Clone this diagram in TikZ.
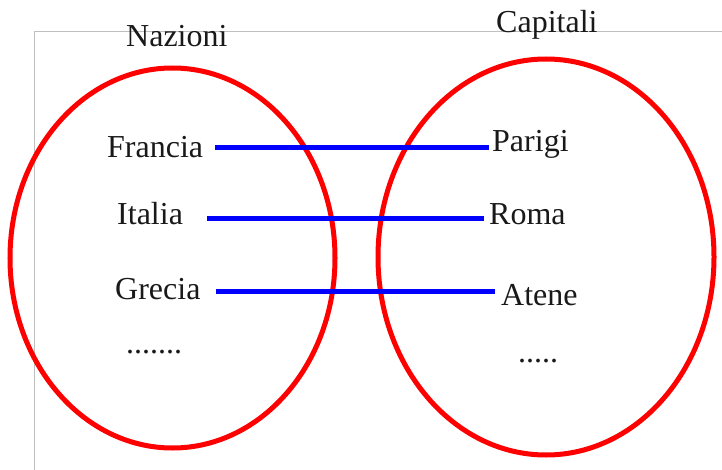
\documentclass[tikz,border=0pt]{standalone}
\usepackage{fontspec}
\setmainfont{Liberation Serif}
\begin{document}
\begin{tikzpicture}[x=1pt,y=-1pt,
  frame/.style={draw=black!25,line width=0.9pt},
  setring/.style={draw=red,line width=5pt},
  link/.style={draw=blue,line width=5pt},
  lbl/.style={anchor=base west,inner sep=0pt,font=\fontsize{32}{38}\selectfont,text=black!90}]
\useasboundingbox (0,0) rectangle (722,470);
% frame
\draw[frame] (34,470) -- (34,31.5) -- (722,31.5);
% sets
\draw[setring] (172.5,258) ellipse [x radius=162.5, y radius=190];
\draw[setring] (546,257) ellipse [x radius=168, y radius=198];
% titles
\node[lbl] (naz) at (126,46.5) {Nazioni};
\node[lbl] (cap) at (496,33) {Capitali};
% elements
\node[lbl] (fr) at (107,158) {Francia};
\node[lbl] (it) at (117,225) {Italia};
\node[lbl] (gr) at (115,299) {Grecia};
\node[lbl] (ld) at (126,353) {.......};
\node[lbl] (pa) at (492,152) {Parigi};
\node[lbl] (ro) at (489,225) {Roma};
\node[lbl] (at) at (501,305) {Atene};
\node[lbl] (rd) at (518,362) {.....};
% connector ends
\coordinate (fr-e) at (215,148);
\coordinate (pa-e) at (489,148);
\coordinate (it-e) at (207,219);
\coordinate (ro-e) at (484,219);
\coordinate (gr-e) at (216,291.5);
\coordinate (at-e) at (495,291.5);
\draw[link] (fr-e) -- (pa-e);
\draw[link] (it-e) -- (ro-e);
\draw[link] (gr-e) -- (at-e);
\end{tikzpicture}
\end{document}
